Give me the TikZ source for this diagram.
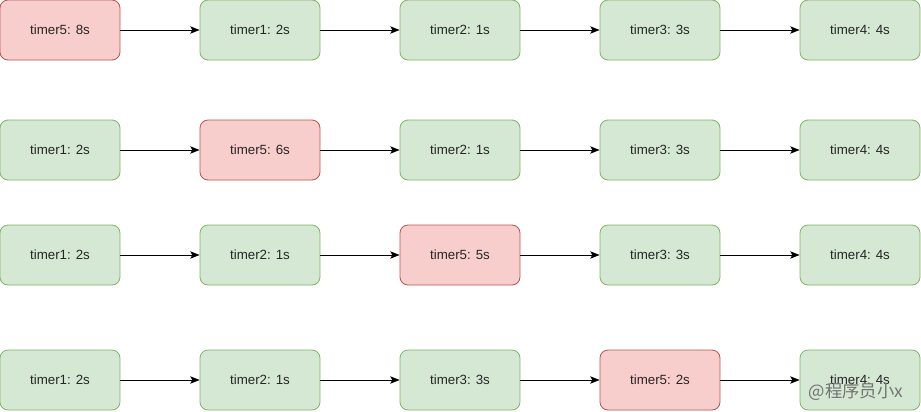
\documentclass[tikz,border=0pt]{standalone}
\usepackage{fontspec}
\setmainfont{Liberation Sans}
\newfontfamily\cjk{Noto Sans CJK SC}
\usetikzlibrary{arrows.meta}
\definecolor{rfill}{HTML}{F8CECC}
\definecolor{rline}{HTML}{B85450}
\definecolor{gfill}{HTML}{D5E8D4}
\definecolor{gline}{HTML}{82B366}
\tikzset{
  px/.style={x=0.75pt,y=-0.75pt},
  box/.style={draw, rounded corners=6pt, minimum width=90pt, minimum height=45pt, inner sep=0pt, font=\fontsize{10pt}{12pt}\selectfont, text=black!85, line width=0.6pt},
  gbox/.style={box, fill=gfill, draw=gline},
  rbox/.style={box, fill=rfill, draw=rline},
  conn/.style={-{Stealth[length=7pt,width=5.5pt,inset=1.5pt]}, line width=0.75pt, black},
}
\begin{document}
\begin{tikzpicture}[px]
\useasboundingbox (0,0) rectangle (921,411);
% row 1
\node[rbox] (a1) at (60,30) {timer5: 8s};
\node[gbox] (a2) at (260,30) {timer1: 2s};
\node[gbox] (a3) at (460,30) {timer2: 1s};
\node[gbox] (a4) at (660,30) {timer3: 3s};
\node[gbox] (a5) at (860,30) {timer4: 4s};
% row 2
\node[gbox] (b1) at (60,150) {timer1: 2s};
\node[rbox] (b2) at (260,150) {timer5: 6s};
\node[gbox] (b3) at (460,150) {timer2: 1s};
\node[gbox] (b4) at (660,150) {timer3: 3s};
\node[gbox] (b5) at (860,150) {timer4: 4s};
% row 3
\node[gbox] (c1) at (60,255) {timer1: 2s};
\node[gbox] (c2) at (260,255) {timer2: 1s};
\node[rbox] (c3) at (460,255) {timer5: 5s};
\node[gbox] (c4) at (660,255) {timer3: 3s};
\node[gbox] (c5) at (860,255) {timer4: 4s};
% row 4
\node[gbox] (d1) at (60,380) {timer1: 2s};
\node[gbox] (d2) at (260,380) {timer2: 1s};
\node[gbox] (d3) at (460,380) {timer3: 3s};
\node[rbox] (d4) at (660,380) {timer5: 2s};
\node[gbox] (d5) at (860,380) {timer4: 4s};
\foreach \r in {a,b,c,d}{
  \draw[conn] (\r1) -- (\r2);
  \draw[conn] (\r2) -- (\r3);
  \draw[conn] (\r3) -- (\r4);
  \draw[conn] (\r4) -- (\r5);
}
\node[anchor=center, text=black!55, font=\cjk\fontsize{13pt}{15pt}\selectfont, inner sep=0pt] (wm) at (856,392) {@程序员小x};
\end{tikzpicture}
\end{document}
